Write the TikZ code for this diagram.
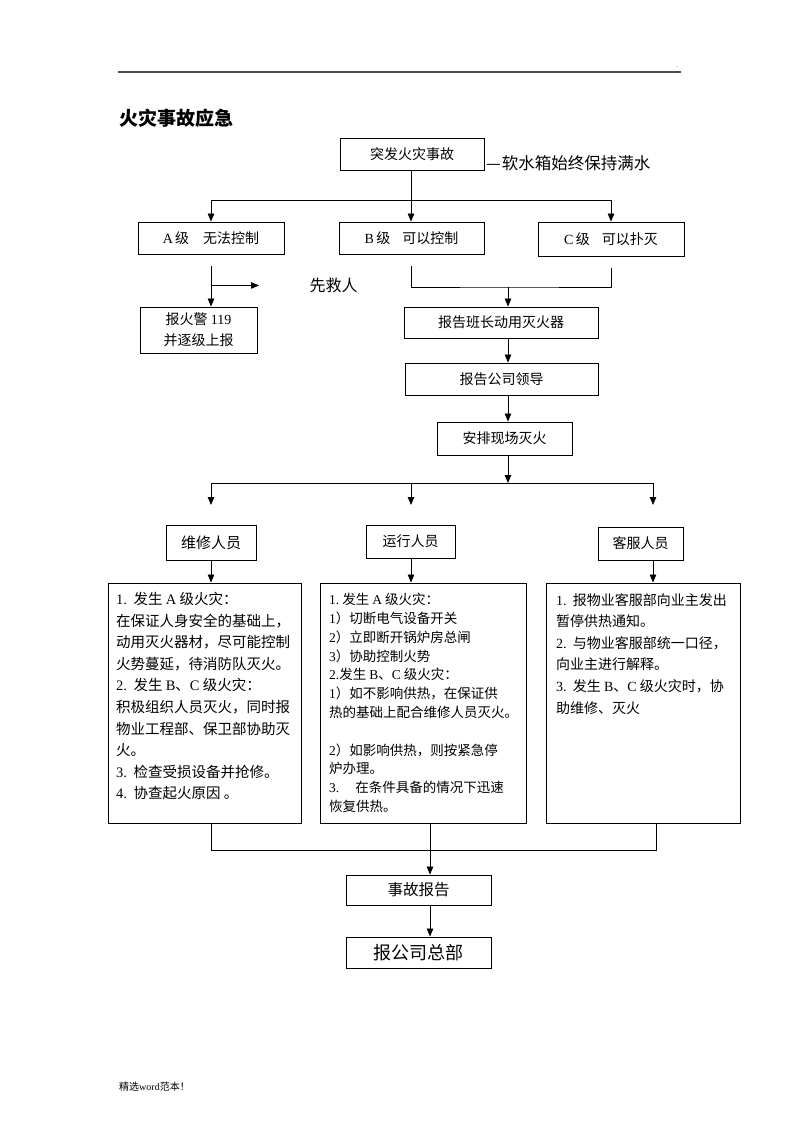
\documentclass[tikz,border=0pt]{standalone}
\usepackage{fontspec}
\setmainfont{Liberation Serif}
\newfontfamily\cjk{Noto Sans CJK SC}
\newcommand\en[1]{{\rmfamily #1}}
\usetikzlibrary{arrows.meta,calc}
\begin{document}
\begin{tikzpicture}[x=1pt,y=-1pt,
  every node/.style={font=\cjk\fontsize{14}{17}\selectfont},
  box/.style={draw, line width=0.9pt, inner sep=0pt, align=center},
  ln/.style={line width=0.8pt},
  arr/.style={ln, -{Triangle[length=8pt,width=6.5pt]}},
  body/.style={anchor=north west, align=left, inner sep=0pt}]
\path[use as bounding box] (0,0) rectangle (800,1132);
% header
\draw[line width=1.3pt, black!70] (118,72) -- (681,72);
\node[font=\fontsize{6}{6}\selectfont, inner sep=0pt] (dot) at (677,67) {.};
\node[anchor=west, inner sep=0pt, font=\cjk\bfseries\fontsize{19}{20}\selectfont] (title) at (119,118) {火灾事故应急};
% top
\node[box, minimum width=144pt, minimum height=32pt] (t) at (412,154) {突发火灾事故};
\node[anchor=west, inner sep=0pt, font=\cjk\fontsize{16.5}{18}\selectfont] (note) at (486,163) {—\kern1pt 软水箱始终保持满水};
\coordinate (j1) at (411,200);
\node[box, minimum width=146pt, minimum height=32pt] (A) at (211,238) {\en{A}\,级\hspace{14pt}无法控制};
\node[box, minimum width=145pt, minimum height=32pt] (B) at (411.5,238) {\en{B}\,级\hspace{12pt}可以控制};
\node[box, minimum width=146pt, minimum height=34pt] (C) at (611,239) {\en{C}\,级\hspace{12pt}可以扑灭};
\draw[arr] (t.south -| j1) -- (j1 |- B.north);
\draw[ln] (A.north |- j1) -- (C.north |- j1);
\draw[arr] (A.north |- j1) -- (A.north);
\draw[arr] (C.north |- j1) -- (C.north);
% A branch
\node[box, minimum width=117pt, minimum height=46pt, font=\cjk\fontsize{14}{21}\selectfont] (F) at (198.5,330) {报火警 \en{119}\\并逐级上报};
\coordinate (a1) at ($(A.south)+(0,12)$);
\coordinate (br) at ($(A.south)+(0,31)$);
\draw[arr] (a1) -- (a1 |- F.north);
\draw[arr] (br) -- ++(48,0) coordinate (brend);
\node[font=\cjk\fontsize{16}{18}\selectfont] (save) at (333.5,285) {先救人};
% B/C branch
\coordinate (bm) at (508,287);
\draw[ln] ($(B.south)+(0,12)$) |- (bm) -| ($(C.south)+(0,12)$);
\node[box, minimum width=194pt, minimum height=31pt] (r1) at (501,322.5) {报告班长动用灭火器};
\node[box, minimum width=193pt, minimum height=32pt] (r2) at (501.5,379) {报告公司领导};
\node[box, minimum width=135pt, minimum height=33pt] (r3) at (504.5,438.5) {安排现场灭火};
\draw[arr] (bm) -- (bm |- r1.north);
\draw[arr] (bm |- r1.south) -- (bm |- r2.north);
\draw[arr] (bm |- r2.south) -- (bm |- r3.north);
\coordinate (j3) at (508,483);
\coordinate (wx) at (211,483);
\coordinate (yx) at (411,483);
\coordinate (kx) at (653,483);
\draw[arr] (bm |- r3.south) -- (j3);
\draw[ln] (wx) -- (kx);
\draw[arr] (wx) -- ++(0,22) coordinate (wa);
\draw[arr] (yx) -- ++(0,22) coordinate (ya);
\draw[arr] (kx) -- ++(0,22) coordinate (ka);
% staff
\node[box, minimum width=90pt, minimum height=35pt, font=\cjk\fontsize{15}{17}\selectfont] (W) at (211,542.5) {维修人员};
\node[box, minimum width=89pt, minimum height=33pt] (Y) at (410.5,541.5) {运行人员};
\node[box, minimum width=85pt, minimum height=33pt] (K) at (640.5,543.5) {客服人员};
\node[box, minimum width=193pt, minimum height=240pt] (L) at (204.5,703) {};
\node[box, minimum width=206pt, minimum height=240pt] (M) at (423,703) {};
\node[box, minimum width=194pt, minimum height=240pt] (R) at (643,703) {};
\draw[arr] (W.south -| wx) -- (wx |- L.north);
\draw[arr] (Y.south -| yx) -- (yx |- M.north);
\draw[arr] (K.south -| kx) -- (kx |- R.north);
\node[body, font=\cjk\fontsize{14.5}{21.6}\selectfont] (Lt) at (116,592) {%
\en{1.}\ \ 发生 \en{A} 级火灾：\\
在保证人身安全的基础上，\\
动用灭火器材，尽可能控制\\
火势蔓延，待消防队灭火。\\
\en{2.}\ \ 发生 \en{B}、\en{C} 级火灾：\\
积极组织人员灭火，同时报\\
物业工程部、保卫部协助灭\\
火。\\
\en{3.}\ \ 检查受损设备并抢修。\\
\en{4.}\ \ 协查起火原因 。};
\node[body, font=\cjk\fontsize{13.5}{18.8}\selectfont] (Mt) at (329,593) {%
\en{1.}\ 发生 \en{A} 级火灾：\\
\en{1}）切断电气设备开关\\
\en{2}）立即断开锅炉房总闸\\
\en{3}）协助控制火势\\
\en{2.}发生 \en{B}、\en{C} 级火灾：\\
\en{1}）如不影响供热，在保证供\\
热的基础上配合维修人员灭火。\\[18.8pt]
\en{2}）如影响供热，则按紧急停\\
炉办理。\\
\en{3.}\hspace{16pt}在条件具备的情况下迅速\\
恢复供热。};
\node[body, font=\cjk\fontsize{14}{21.6}\selectfont] (Rt) at (556,593) {%
\en{1.}\ \ 报物业客服部向业主发出\\
暂停供热通知。\\
\en{2.}\ \ 与物业客服部统一口径，\\
向业主进行解释。\\
\en{3.}\ \ 发生 \en{B}、\en{C} 级火灾时，协\\
助维修、灭火};
% bottom
\coordinate (mx) at (430,850);
\coordinate (lx) at (211,850);
\coordinate (rx) at (656,850);
\node[box, minimum width=145pt, minimum height=30pt, font=\cjk\fontsize{15.5}{18}\selectfont] (S) at (418.5,890) {事故报告};
\node[box, minimum width=145pt, minimum height=31pt, font=\cjk\fontsize{18}{20}\selectfont] (H) at (418.5,952.5) {报公司总部};
\draw[ln] (L.south -| lx) -- (lx) -- (rx) -- (R.south -| rx);
\draw[arr] (M.south -| mx) -- (mx |- S.north);
\draw[arr] (S.south -| mx) -- (mx |- H.north);
% footer
\node[anchor=west, inner sep=0pt, font=\cjk\fontsize{10}{12}\selectfont] (foot) at (119,1087) {精选\en{word}范本！};
\end{tikzpicture}
\end{document}
